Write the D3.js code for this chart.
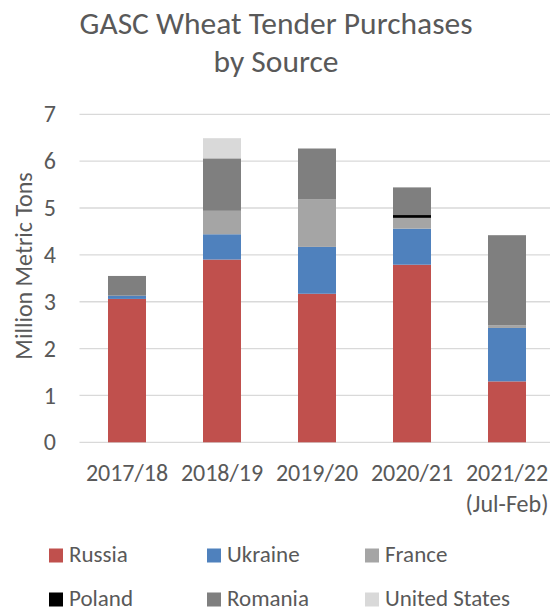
<!DOCTYPE html>
<html>
<head>
    <title>GASC Wheat Tender Purchases</title>
    <style>
        body { margin: 0; background: #fff; }
        text { font-family: Calibri, Carlito, "Open Sans", sans-serif; fill: #595959; }
        .grid line { stroke: #d9d9d9; stroke-width: 1.3; }
    </style>
</head>
<body>
    <div id="chart"></div>
    <script src="https://d3js.org/d3.v7.min.js"></script>
    <script>
        // Data (million metric tons)
        const years = ["2017/18", "2018/19", "2019/20", "2020/21", "2021/22"];
        const sources = ["Russia", "Ukraine", "France", "Poland", "Romania", "United States"];
        const colors = ["#c0504d", "#4f81bd", "#a5a5a5", "#000000", "#7f7f7f", "#d9d9d9"];
        const russia  = [3.06, 3.90, 3.17, 3.79, 1.30];
        const ukraine = [0.07, 0.54, 1.00, 0.77, 1.14];
        const france  = [0.00, 0.50, 1.02, 0.23, 0.06];
        const poland  = [0.00, 0.00, 0.00, 0.06, 0.00];
        const romania = [0.42, 1.12, 1.08, 0.59, 1.92];
        const usa     = [0.00, 0.43, 0.00, 0.00, 0.00];
        const yTicks = [0, 1, 2, 3, 4, 5, 6, 7];

        const rows = years.map((y, i) => ({
            year: y,
            "Russia": russia[i], "Ukraine": ukraine[i], "France": france[i],
            "Poland": poland[i], "Romania": romania[i], "United States": usa[i]
        }));

        const W = 550, H = 611;
        const svg = d3.select("#chart").append("svg")
            .attr("width", W).attr("height", H);

        const x = d3.scaleBand()
            .domain(years)
            .range([79.5, 554.5])
            .paddingInner(0.6)
            .paddingOuter(0.3);

        const y = d3.scaleLinear()
            .domain([0, 7])
            .range([442.3, 114.3]);

        // Title
        svg.append("text")
            .attr("x", 276).attr("y", 34)
            .attr("text-anchor", "middle")
            .style("font-size", "31.5px")
            .text("GASC Wheat Tender Purchases");
        svg.append("text")
            .attr("x", 276).attr("y", 72)
            .attr("text-anchor", "middle")
            .style("font-size", "31.5px")
            .text("by Source");

        // Gridlines
        svg.append("g").attr("class", "grid")
            .selectAll("line").data(yTicks).join("line")
            .attr("x1", 79.5).attr("x2", 554.5)
            .attr("y1", d => y(d)).attr("y2", d => y(d));

        // Y axis labels
        const yAxis = svg.append("g")
            .attr("transform", "translate(56,0)")
            .call(d3.axisLeft(y).tickValues(yTicks).tickFormat(d3.format("d")).tickSize(0).tickPadding(0));
        yAxis.select(".domain").remove();
        yAxis.selectAll("text").style("font-size", "24px").attr("fill", "#595959");

        svg.append("text")
            .attr("transform", "translate(32,266) rotate(-90)")
            .attr("text-anchor", "middle")
            .style("font-size", "24px")
            .text("Million Metric Tons");

        // Stacked bars
        const stack = d3.stack().keys(sources)(rows);
        svg.append("g").selectAll("g").data(stack).join("g")
            .attr("fill", (d, i) => colors[i])
            .selectAll("rect").data(d => d).join("rect")
            .attr("x", d => x(d.data.year))
            .attr("width", x.bandwidth())
            .attr("y", d => y(d[1]))
            .attr("height", d => y(d[0]) - y(d[1]));

        // X axis labels
        const xAxis = svg.append("g")
            .attr("transform", "translate(0,442)")
            .call(d3.axisBottom(x).tickSize(0));
        xAxis.select(".domain").remove();
        xAxis.selectAll("text")
            .attr("y", 39).attr("dy", null)
            .style("font-size", "24px").attr("fill", "#595959");
        xAxis.selectAll(".tick").filter(d => d === "2021/22")
            .append("text")
            .attr("y", 70)
            .attr("fill", "#595959")
            .attr("text-anchor", "middle")
            .style("font-size", "24px")
            .text("(Jul-Feb)");

        // Legend
        const legend = svg.append("g").selectAll("g").data(sources).join("g")
            .attr("transform", (d, i) => `translate(${49 + (i % 3) * 158},${i < 3 ? 562 : 606})`);
        legend.append("rect")
            .attr("x", 0).attr("y", -13.5)
            .attr("width", 14).attr("height", 14)
            .attr("fill", (d, i) => colors[i]);
        legend.append("text")
            .attr("x", 20).attr("y", 0)
            .style("font-size", "23px")
            .text(d => d);
    </script>
</body>
</html>
